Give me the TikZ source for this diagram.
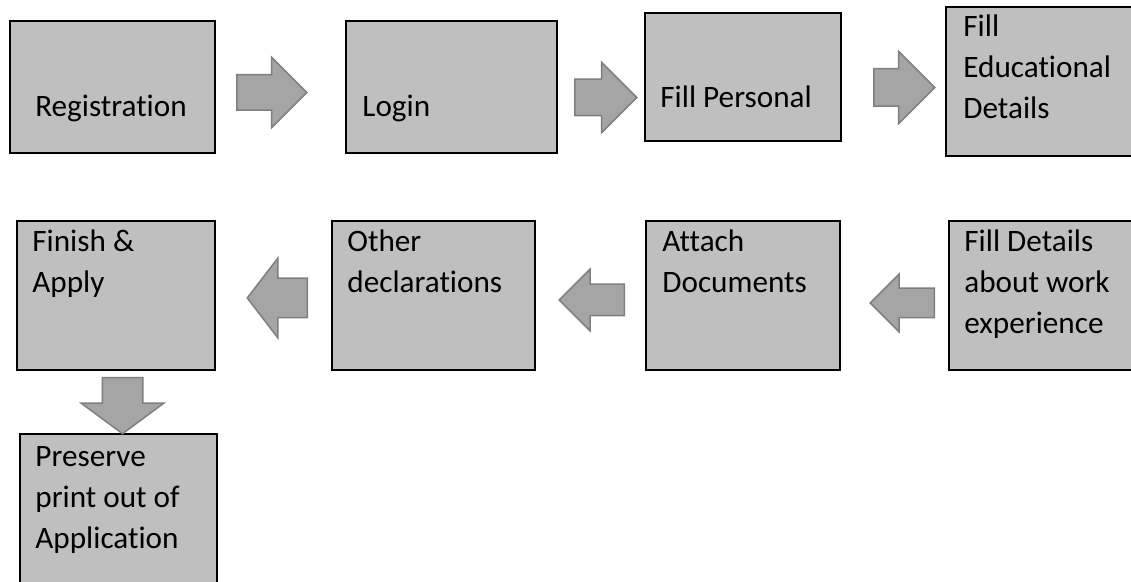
\documentclass[tikz,border=0pt]{standalone}
\usepackage{fontspec}
\setmainfont{Carlito}[RawFeature={-liga}]
\usetikzlibrary{shapes, arrows, fit}

\definecolor{boxfill}{HTML}{BFBFBF}
\definecolor{arrowfill}{HTML}{A5A5A5}
\definecolor{arrowline}{HTML}{7F7F7F}

\begin{document}
\begin{tikzpicture}[%
    x=0.5pt, y=-0.5pt,          % one unit is one pixel of the page
    ]

\tikzset{
  stepbox/.style={draw, fill=boxfill, line width=1pt, inner sep=0pt},
  txt/.style={inner sep=0pt, anchor=base west, align=left,
              font=\fontsize{15.6}{20.5}\selectfont}, % base = last line
  flow/.style={single arrow, draw=arrowline, fill=arrowfill, line width=0.75pt,
               inner xsep=0pt, single arrow head indent=0pt, anchor=tail}
  };

\clip (0,0) rectangle (1131,582);

% first row
\node[stepbox, fit={(9.5,21) (215,153)}] (reg) {};
\node[txt, anchor=base] (reg-t) at (111,117) {Registration};

\node[stepbox, fit={(346,21) (557,153)}] (login) {};
\node[txt] (login-t) at (362,117) {Login};

\node[stepbox, fit={(645,13) (841,141)}] (pers) {};
\node[txt] (pers-t) at (660,108) {Fill Personal};

\node[stepbox, fit={(946,7) (1150,156)}] (edu) {};
\node[txt] (edu-t) at (963,119) {Fill\\Educational\\Details};

% second row, right to left
\node[stepbox, fit={(949,221) (1150,370)}] (work) {};
\node[txt] (work-t) at (964,334) {Fill Details\\about work\\experience};

\node[stepbox, fit={(646,221) (840,370)}] (attach) {};
\node[txt] (attach-t) at (662,293) {Attach\\Documents};

\node[stepbox, fit={(332,221) (535,370)}] (other) {};
\node[txt] (other-t) at (347,293) {Other\\declarations};

\node[stepbox, fit={(17,221) (215,370)}] (finish) {};
\node[txt] (finish-t) at (32,293) {Finish \&\\Apply};

% last step
\node[stepbox, fit={(20,434) (217,600)}] (print) {};
\node[txt] (print-t) at (35,549) {Preserve\\print out of\\Application};

% block arrows
\node[flow, minimum height=35pt, minimum width=34.5pt, inner ysep=8.5pt,
      single arrow head extend=8.75pt] (a1) at (236,92.5) {};
\node[flow, minimum height=31pt, minimum width=34.5pt, inner ysep=8.75pt,
      single arrow head extend=8.5pt] (a2) at (574,97.5) {};
\node[flow, minimum height=30.5pt, minimum width=35.5pt, inner ysep=9pt,
      single arrow head extend=8.75pt] (a3) at (873,87.5) {};

\node[flow, shape border rotate=180, minimum height=32pt, minimum width=28pt,
      inner ysep=7pt, single arrow head extend=7pt] (a4) at (935,303) {};
\node[flow, shape border rotate=180, minimum height=32.5pt, minimum width=30pt,
      inner ysep=7.5pt, single arrow head extend=7.5pt] (a5) at (625,300) {};
\node[flow, shape border rotate=180, minimum height=30pt, minimum width=39pt,
      inner ysep=9.5pt, single arrow head extend=10pt,
      single arrow tip angle=105] (a6) at (308,298) {};

\node[flow, shape border rotate=270, minimum height=28pt, minimum width=40.5pt,
      inner xsep=9.75pt, inner ysep=0pt, single arrow head extend=10.5pt,
      single arrow tip angle=107] (a7) at (122.5,377) {};

\end{tikzpicture}
\end{document}
